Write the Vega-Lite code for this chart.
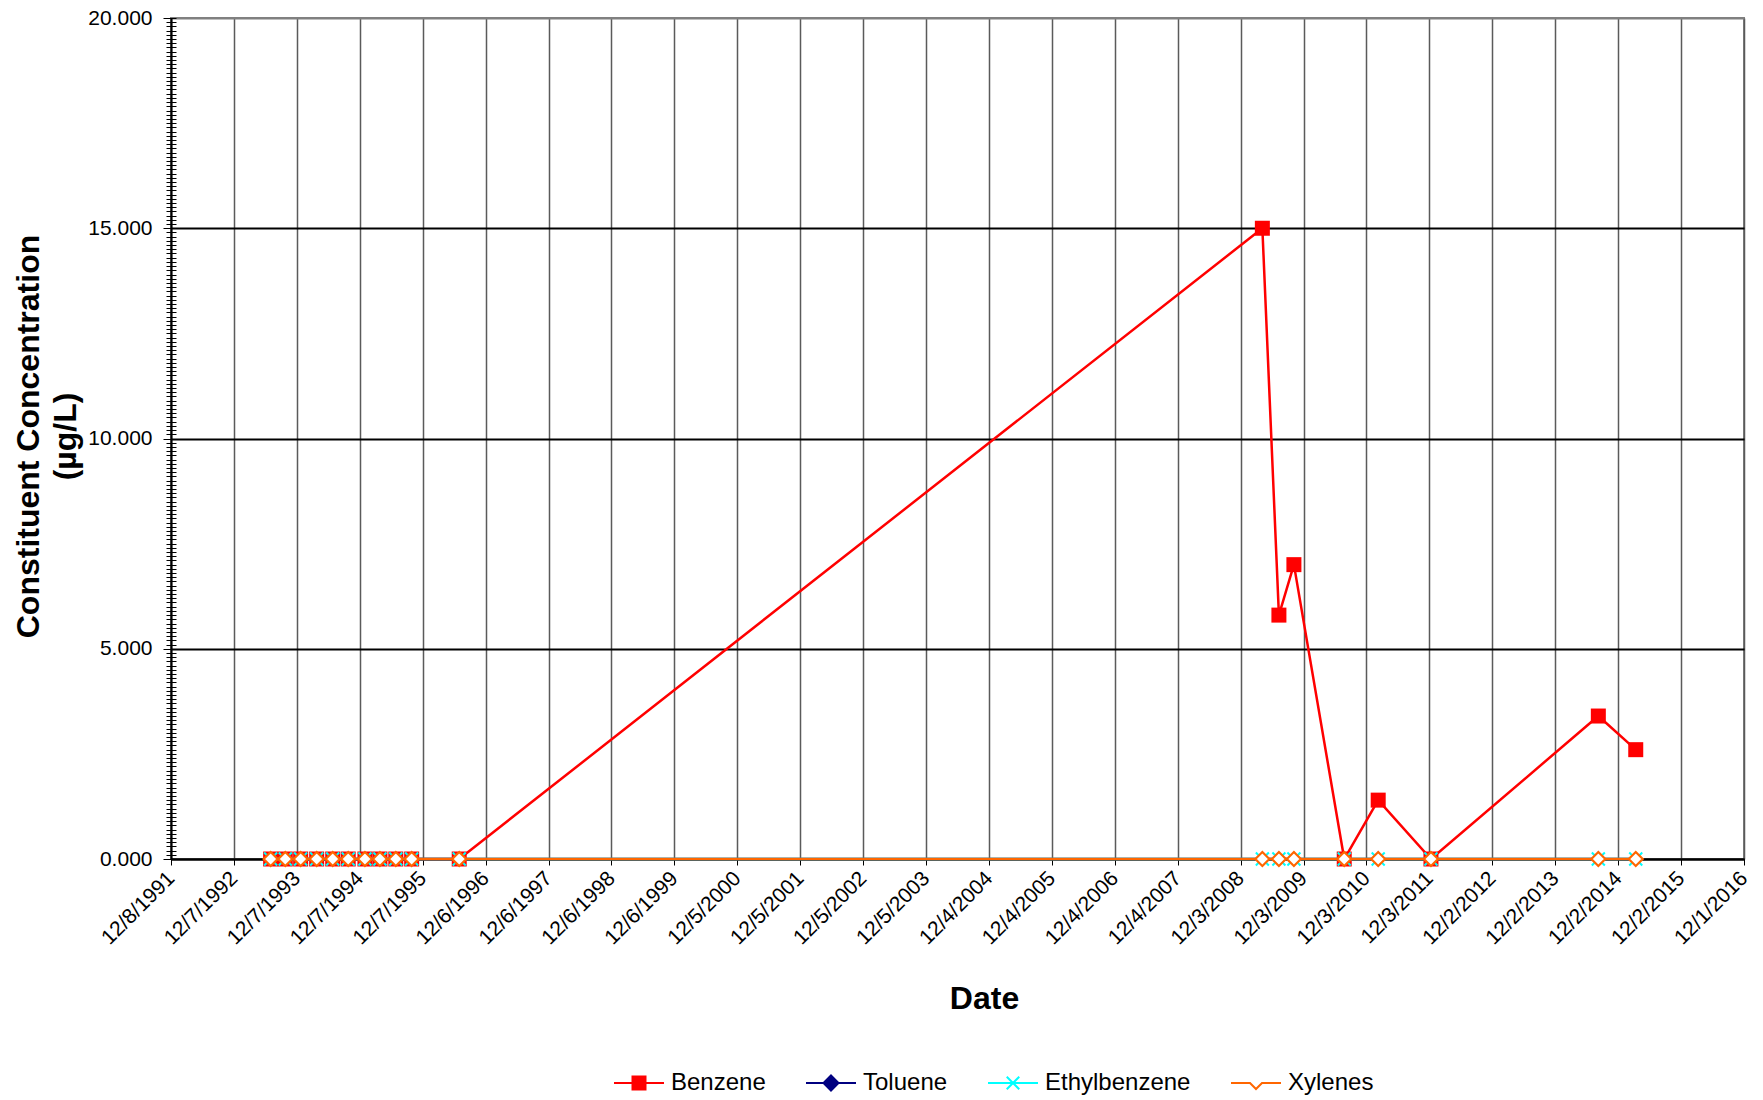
{
  "$schema": "https://vega.github.io/schema/vega-lite/v6.json",
  "width": 1573,
  "height": 841,
  "autosize": {"type": "none"},
  "padding": {"left": 171, "top": 18, "right": 19, "bottom": 241},
  "background": "white",
  "config": {
    "view": {"stroke": "#808080", "strokeWidth": 2},
    "font": "Liberation Sans",
    "axis": {"labelFont": "Liberation Sans", "titleFont": "Liberation Sans", "labelColor": "black", "titleColor": "black"},
    "legend": {
      "labelFont": "Liberation Sans",
      "title": null,
      "orient": "none",
      "legendX": 442,
      "legendY": 1039,
      "direction": "horizontal",
      "padding": 0,
      "symbolSize": 2500,
      "symbolStrokeWidth": 2,
      "symbolOpacity": 1,
      "labelFontSize": 24,
      "labelColor": "black",
      "labelOffset": 6,
      "columnPadding": 36
    }
  },
  "data": {
    "values": [
      {"date": "1993-07-08", "series": "Benzene", "value": 0},
      {"date": "1993-10-01", "series": "Benzene", "value": 0},
      {"date": "1993-12-29", "series": "Benzene", "value": 0},
      {"date": "1994-04-01", "series": "Benzene", "value": 0},
      {"date": "1994-07-03", "series": "Benzene", "value": 0},
      {"date": "1994-10-01", "series": "Benzene", "value": 0},
      {"date": "1995-01-06", "series": "Benzene", "value": 0},
      {"date": "1995-04-03", "series": "Benzene", "value": 0},
      {"date": "1995-07-04", "series": "Benzene", "value": 0},
      {"date": "1995-10-04", "series": "Benzene", "value": 0},
      {"date": "1996-07-06", "series": "Benzene", "value": 0},
      {"date": "2009-04-08", "series": "Benzene", "value": 15.0},
      {"date": "2009-07-13", "series": "Benzene", "value": 5.8},
      {"date": "2009-10-08", "series": "Benzene", "value": 7.0},
      {"date": "2010-07-27", "series": "Benzene", "value": 0},
      {"date": "2011-02-09", "series": "Benzene", "value": 1.4},
      {"date": "2011-12-12", "series": "Benzene", "value": 0},
      {"date": "2014-08-09", "series": "Benzene", "value": 3.4},
      {"date": "2015-03-14", "series": "Benzene", "value": 2.6},

      {"date": "1993-07-08", "series": "Toluene", "value": 0},
      {"date": "1993-10-01", "series": "Toluene", "value": 0},
      {"date": "1993-12-29", "series": "Toluene", "value": 0},
      {"date": "1994-04-01", "series": "Toluene", "value": 0},
      {"date": "1994-07-03", "series": "Toluene", "value": 0},
      {"date": "1994-10-01", "series": "Toluene", "value": 0},
      {"date": "1995-01-06", "series": "Toluene", "value": 0},
      {"date": "1995-04-03", "series": "Toluene", "value": 0},
      {"date": "1995-07-04", "series": "Toluene", "value": 0},
      {"date": "1995-10-04", "series": "Toluene", "value": 0},
      {"date": "1996-07-06", "series": "Toluene", "value": 0},
      {"date": "2009-04-08", "series": "Toluene", "value": 0},
      {"date": "2009-07-13", "series": "Toluene", "value": 0},
      {"date": "2009-10-08", "series": "Toluene", "value": 0},
      {"date": "2010-07-27", "series": "Toluene", "value": 0},
      {"date": "2011-02-09", "series": "Toluene", "value": 0},
      {"date": "2011-12-12", "series": "Toluene", "value": 0},
      {"date": "2014-08-09", "series": "Toluene", "value": 0},
      {"date": "2015-03-14", "series": "Toluene", "value": 0},

      {"date": "1993-07-08", "series": "Ethylbenzene", "value": 0},
      {"date": "1993-10-01", "series": "Ethylbenzene", "value": 0},
      {"date": "1993-12-29", "series": "Ethylbenzene", "value": 0},
      {"date": "1994-04-01", "series": "Ethylbenzene", "value": 0},
      {"date": "1994-07-03", "series": "Ethylbenzene", "value": 0},
      {"date": "1994-10-01", "series": "Ethylbenzene", "value": 0},
      {"date": "1995-01-06", "series": "Ethylbenzene", "value": 0},
      {"date": "1995-04-03", "series": "Ethylbenzene", "value": 0},
      {"date": "1995-07-04", "series": "Ethylbenzene", "value": 0},
      {"date": "1995-10-04", "series": "Ethylbenzene", "value": 0},
      {"date": "1996-07-06", "series": "Ethylbenzene", "value": 0},
      {"date": "2009-04-08", "series": "Ethylbenzene", "value": 0},
      {"date": "2009-07-13", "series": "Ethylbenzene", "value": 0},
      {"date": "2009-10-08", "series": "Ethylbenzene", "value": 0},
      {"date": "2010-07-27", "series": "Ethylbenzene", "value": 0},
      {"date": "2011-02-09", "series": "Ethylbenzene", "value": 0},
      {"date": "2011-12-12", "series": "Ethylbenzene", "value": 0},
      {"date": "2014-08-09", "series": "Ethylbenzene", "value": 0},
      {"date": "2015-03-14", "series": "Ethylbenzene", "value": 0},

      {"date": "1993-07-08", "series": "Xylenes", "value": 0},
      {"date": "1993-10-01", "series": "Xylenes", "value": 0},
      {"date": "1993-12-29", "series": "Xylenes", "value": 0},
      {"date": "1994-04-01", "series": "Xylenes", "value": 0},
      {"date": "1994-07-03", "series": "Xylenes", "value": 0},
      {"date": "1994-10-01", "series": "Xylenes", "value": 0},
      {"date": "1995-01-06", "series": "Xylenes", "value": 0},
      {"date": "1995-04-03", "series": "Xylenes", "value": 0},
      {"date": "1995-07-04", "series": "Xylenes", "value": 0},
      {"date": "1995-10-04", "series": "Xylenes", "value": 0},
      {"date": "1996-07-06", "series": "Xylenes", "value": 0},
      {"date": "2009-04-08", "series": "Xylenes", "value": 0},
      {"date": "2009-07-13", "series": "Xylenes", "value": 0},
      {"date": "2009-10-08", "series": "Xylenes", "value": 0},
      {"date": "2010-07-27", "series": "Xylenes", "value": 0},
      {"date": "2011-02-09", "series": "Xylenes", "value": 0},
      {"date": "2011-12-12", "series": "Xylenes", "value": 0},
      {"date": "2014-08-09", "series": "Xylenes", "value": 0},
      {"date": "2015-03-14", "series": "Xylenes", "value": 0}
    ]
  },
  "layer": [
    {
      "encoding": {
        "x": {
          "field": "date",
          "type": "temporal",
          "scale": {
            "type": "utc",
            "domain": [
              {"year": 1991, "month": 12, "date": 8, "utc": true},
              {"year": 2016, "month": 12, "date": 1, "utc": true}
            ],
            "nice": false
          },
          "axis": {
            "values": [
              {"year": 1991, "month": 12, "date": 8, "utc": true},
              {"year": 1992, "month": 12, "date": 7, "utc": true},
              {"year": 1993, "month": 12, "date": 7, "utc": true},
              {"year": 1994, "month": 12, "date": 7, "utc": true},
              {"year": 1995, "month": 12, "date": 7, "utc": true},
              {"year": 1996, "month": 12, "date": 6, "utc": true},
              {"year": 1997, "month": 12, "date": 6, "utc": true},
              {"year": 1998, "month": 12, "date": 6, "utc": true},
              {"year": 1999, "month": 12, "date": 6, "utc": true},
              {"year": 2000, "month": 12, "date": 5, "utc": true},
              {"year": 2001, "month": 12, "date": 5, "utc": true},
              {"year": 2002, "month": 12, "date": 5, "utc": true},
              {"year": 2003, "month": 12, "date": 5, "utc": true},
              {"year": 2004, "month": 12, "date": 4, "utc": true},
              {"year": 2005, "month": 12, "date": 4, "utc": true},
              {"year": 2006, "month": 12, "date": 4, "utc": true},
              {"year": 2007, "month": 12, "date": 4, "utc": true},
              {"year": 2008, "month": 12, "date": 3, "utc": true},
              {"year": 2009, "month": 12, "date": 3, "utc": true},
              {"year": 2010, "month": 12, "date": 3, "utc": true},
              {"year": 2011, "month": 12, "date": 3, "utc": true},
              {"year": 2012, "month": 12, "date": 2, "utc": true},
              {"year": 2013, "month": 12, "date": 2, "utc": true},
              {"year": 2014, "month": 12, "date": 2, "utc": true},
              {"year": 2015, "month": 12, "date": 2, "utc": true},
              {"year": 2016, "month": 12, "date": 1, "utc": true}
            ],
            "labelExpr": "utcFormat(datum.value, '%-m/%-d/%Y')",
            "labelAngle": -45,
            "labelAlign": "right",
            "labelBaseline": "middle",
            "labelFontSize": 21,
            "labelPadding": 10,
            "labelFlush": false,
            "labelOverlap": false,
            "labelBound": false,
            "tickSize": 6,
            "tickColor": "black",
            "tickWidth": 1,
            "domainColor": "black",
            "domainWidth": 2,
            "grid": true,
            "gridColor": "#5a5a5a",
            "gridWidth": 1.5,
            "zindex": 0,
            "title": "Date",
            "titleFontSize": 32,
            "titleFontWeight": "bold",
            "titleX": 813,
            "titleY": 149,
            "titleBaseline": "alphabetic",
            "titleAlign": "center"
          }
        },
        "y": {
          "field": "value",
          "type": "quantitative",
          "scale": {"domain": [0, 20], "nice": false},
          "axis": {
            "values": [0, 5, 10, 15, 20],
            "format": ".3f",
            "labelFontSize": 21,
            "labelPadding": 11,
            "labelFlush": false,
            "tickSize": 8,
            "tickColor": "black",
            "domainColor": "black",
            "domainWidth": 2,
            "grid": true,
            "gridColor": {"condition": {"test": "datum.value === 20", "value": "#808080"}, "value": "#000000"},
            "gridWidth": 2,
            "zindex": 0,
            "title": ["Constituent Concentration", "(µg/L)"],
            "titleFontSize": 32,
            "titleFontWeight": "bold",
            "titleAngle": -90,
            "titleX": -133,
            "titleY": 418,
            "titleAlign": "center",
            "titleBaseline": "alphabetic",
            "titleLineHeight": 37
          }
        }
      },
      "layer": [
        {"transform": [{"filter": "datum.series === 'Benzene'"}], "mark": {"type": "line", "color": "#FF0000", "strokeWidth": 2.5}},
        {"transform": [{"filter": "datum.series === 'Benzene'"}], "mark": {"type": "point", "shape": "square", "filled": true, "color": "#FF0000", "size": 225, "opacity": 1}},
        {"transform": [{"filter": "datum.series === 'Toluene'"}], "mark": {"type": "line", "color": "#000080", "strokeWidth": 2.5}},
        {"transform": [{"filter": "datum.series === 'Toluene'"}], "mark": {"type": "point", "shape": "diamond", "filled": true, "color": "#000080", "size": 196, "opacity": 1}},
        {"transform": [{"filter": "datum.series === 'Ethylbenzene'"}], "mark": {"type": "line", "color": "#00FFFF", "strokeWidth": 2.5}},
        {"transform": [{"filter": "datum.series === 'Ethylbenzene'"}], "mark": {"type": "point", "shape": "M-1,-1L1,1M-1,1L1,-1", "filled": false, "color": "#00FFFF", "strokeWidth": 2, "size": 169, "opacity": 1}},
        {"transform": [{"filter": "datum.series === 'Xylenes'"}], "mark": {"type": "line", "color": "#FF6600", "strokeWidth": 2.5}},
        {"transform": [{"filter": "datum.series === 'Xylenes'"}], "mark": {"type": "point", "shape": "diamond", "filled": true, "fill": "#FFFFFF", "stroke": "#FF6600", "strokeWidth": 2.2, "size": 196, "opacity": 1}}
      ]
    },
    {
      "transform": [{"filter": "false"}],
      "mark": {"type": "point", "opacity": 1, "strokeWidth": 2},
      "encoding": {
        "y": {
          "field": "value",
          "type": "quantitative",
          "scale": {"domain": [0, 20], "nice": false},
          "axis": {
            "orient": "left",
            "offset": -5,
            "tickCount": 200,
            "tickSize": 10,
            "tickColor": "black",
            "tickWidth": 1,
            "domain": false,
            "labels": false,
            "grid": false,
            "title": null,
            "zindex": 1
          }
        },
        "shape": {
          "field": "series",
          "type": "nominal",
          "scale": {
            "domain": ["Benzene", "Toluene", "Ethylbenzene", "Xylenes"],
            "range": [
              "M-1,0H1M-0.26,-0.26H0.26V0.26H-0.26Z",
              "M-1,0H1M0,-0.3L0.3,0L0,0.3L-0.3,0Z",
              "M-1,0H1M-0.25,-0.25L0.25,0.25M-0.25,0.25L0.25,-0.25",
              "M-1,0H-0.24L0,0.24L0.24,0H1"
            ]
          },
          "legend": {"title": null}
        },
        "fill": {
          "field": "series",
          "type": "nominal",
          "scale": {
            "domain": ["Benzene", "Toluene", "Ethylbenzene", "Xylenes"],
            "range": ["#FF0000", "#000080", "#00FFFF", "#FFFFFF"]
          },
          "legend": {"title": null}
        },
        "stroke": {
          "field": "series",
          "type": "nominal",
          "scale": {
            "domain": ["Benzene", "Toluene", "Ethylbenzene", "Xylenes"],
            "range": ["#FF0000", "#000080", "#00FFFF", "#FF6600"]
          },
          "legend": {"title": null}
        }
      }
    }
  ],
  "resolve": {"axis": {"y": "independent"}}
}
